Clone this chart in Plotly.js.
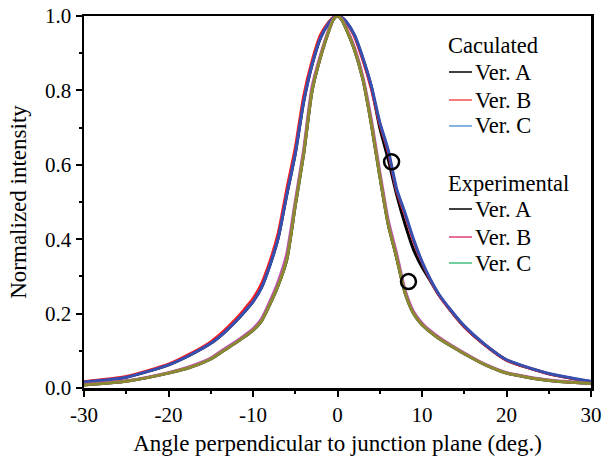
<!DOCTYPE html>
<html>
<head>
<meta charset="utf-8">
<script src="https://cdn.plot.ly/plotly-3.0.1.min.js"></script>
<style>html,body{margin:0;padding:0;background:#fff;}#chart{width:603px;height:465px;}</style>
</head>
<body>
<div id="chart"></div>
<script>
// Angles (deg.)
const angle = [-30,-25,-20,-17.5,-15,-13.5,-12,-11,-10,-9,-8,-7,-6,-5,-4,-3,-2,-1,-0.5,0,0.5,1,2,3,4,5,6,7,8,9,10,11,12,13.5,15,17.5,20,25,30];

// Calculated
const calcA = [0.016,0.029,0.062,0.088,0.12,0.147,0.18,0.205,0.232,0.27,0.33,0.405,0.52,0.63,0.77,0.87,0.942,0.982,0.995,1.0,0.996,0.985,0.948,0.885,0.81,0.70,0.615,0.52,0.44,0.372,0.325,0.288,0.25,0.205,0.165,0.115,0.075,0.038,0.017];
const calcB = [0.017,0.031,0.064,0.091,0.124,0.152,0.186,0.212,0.24,0.28,0.34,0.418,0.535,0.645,0.785,0.88,0.95,0.985,0.996,1.0,0.996,0.985,0.946,0.882,0.805,0.71,0.635,0.53,0.465,0.395,0.338,0.29,0.25,0.205,0.165,0.115,0.075,0.038,0.017];
const calcC = [0.016,0.029,0.062,0.088,0.12,0.147,0.18,0.205,0.232,0.27,0.33,0.405,0.52,0.63,0.77,0.87,0.942,0.982,0.995,1.0,0.996,0.986,0.95,0.888,0.812,0.715,0.64,0.535,0.47,0.40,0.34,0.292,0.252,0.207,0.167,0.116,0.076,0.039,0.018];

// Experimental
const expA = [0.008,0.018,0.04,0.055,0.078,0.1,0.122,0.138,0.155,0.18,0.225,0.277,0.345,0.49,0.63,0.80,0.89,0.962,0.99,1.0,0.99,0.967,0.91,0.83,0.71,0.57,0.44,0.35,0.255,0.20,0.17,0.15,0.133,0.112,0.092,0.062,0.04,0.02,0.012];
const expB = [0.009,0.019,0.041,0.057,0.08,0.103,0.125,0.141,0.159,0.185,0.232,0.287,0.36,0.50,0.64,0.81,0.895,0.965,0.991,1.0,0.991,0.97,0.915,0.835,0.72,0.58,0.45,0.36,0.262,0.205,0.174,0.153,0.136,0.114,0.094,0.063,0.041,0.021,0.012];
const expC = [0.008,0.018,0.04,0.055,0.078,0.1,0.122,0.138,0.155,0.18,0.225,0.277,0.345,0.49,0.63,0.80,0.89,0.962,0.99,1.0,0.99,0.967,0.91,0.83,0.71,0.57,0.44,0.35,0.255,0.20,0.17,0.15,0.133,0.112,0.092,0.062,0.04,0.02,0.012];

// Marked points (open circles)
const markX = [6.4, 8.4];
const markY = [0.608, 0.286];

// Tick labels
const xTickVals = [-30, -20, -10, 0, 10, 20, 30];
const xTickText = ["-30", "-20", "-10", "0", "10", "20", "30"];
const yTickVals = [0, 0.2, 0.4, 0.6, 0.8, 1.0];
const yTickText = ["0.0", "0.2", "0.4", "0.6", "0.8", "1.0"];

// Legend entries
const groupTitles = ["Caculated", "Experimental"];
const legendLabels = ["Ver. A", "Ver. B", "Ver. C"];
const legendColorsCalc = ["#000000", "#f05050", "#5b9bd5"];
const legendColorsExp = ["#000000", "#e0407a", "#40c080"];

const font = "Liberation Serif, Times New Roman, serif";

function line(y, color, w) {
  return {x: angle, y: y, type: "scatter", mode: "lines", showlegend: false,
    line: {color: color, width: w, shape: "spline", smoothing: 0.6}, hoverinfo: "skip"};
}

const traces = [
  line(calcA, "#000000", 3),
  line(calcB, "#ff1a1a", 3),
  line(calcC, "#3550b0", 3),
  line(expA, "#000000", 3),
  line(expB, "#c050b0", 3.2),
  line(expC, "#8a8a30", 3),
  {x: markX, y: markY, type: "scatter", mode: "markers", showlegend: false,
   marker: {symbol: "circle-open", size: 15, color: "#000", line: {color: "#000", width: 2.5}}}
];

// Manual legend (paper coordinates)
const W = 603, H = 465, L = 84, R = 12, T = 16, B = 77;
const pw = W - L - R, ph = H - T - B;
function px(xp) { return (xp - L) / pw; }
function py(yp) { return (H - B - yp) / ph; }

const annotations = [];
const shapes = [];
const groups = [
  {title: groupTitles[0], ty: 45, items: [72, 100, 126], colors: legendColorsCalc},
  {title: groupTitles[1], ty: 183, items: [209, 237, 263], colors: legendColorsExp}
];
groups.forEach(g => {
  annotations.push({xref: "paper", yref: "paper", x: px(446), y: py(g.ty), text: g.title,
    showarrow: false, xanchor: "left", yanchor: "middle", font: {family: font, size: 22.5, color: "#000"}});
  g.items.forEach((yy, i) => {
    shapes.push({type: "line", xref: "paper", yref: "paper", x0: px(449), x1: px(472),
      y0: py(yy), y1: py(yy), line: {color: g.colors[i], width: 1.5}});
    annotations.push({xref: "paper", yref: "paper", x: px(473), y: py(yy), text: legendLabels[i],
      showarrow: false, xanchor: "left", yanchor: "middle", font: {family: font, size: 22.5, color: "#000"}});
  });
});

const layout = {
  width: W, height: H,
  margin: {l: L, r: R, t: T, b: B, pad: 0},
  paper_bgcolor: "#fff", plot_bgcolor: "#fff",
  font: {family: font, size: 21, color: "#000"},
  showlegend: false,
  xaxis: {
    range: [-30, 30], tickmode: "array", tickvals: xTickVals, ticktext: xTickText,
    showgrid: false, zeroline: false,
    showline: true, mirror: true, linecolor: "#000", linewidth: 2.5,
    ticks: "outside", ticklen: 6, tickwidth: 2, tickcolor: "#000",
    minor: {tickmode: "linear", tick0: -30, dtick: 5, ticks: "outside", ticklen: 3, tickwidth: 2, tickcolor: "#000", showgrid: false},
    tickfont: {family: font, size: 21},
    title: {text: "Angle perpendicular to junction plane (deg.)", font: {family: font, size: 23}, standoff: 9}
  },
  yaxis: {
    range: [0, 1.0], tickmode: "array", tickvals: yTickVals, ticktext: yTickText,
    showgrid: false, zeroline: false,
    showline: true, mirror: true, linecolor: "#000", linewidth: 2.5,
    ticks: "outside", ticklen: 6, tickwidth: 2, tickcolor: "#000",
    minor: {tickmode: "linear", tick0: 0, dtick: 0.1, ticks: "outside", ticklen: 3, tickwidth: 2, tickcolor: "#000", showgrid: false},
    tickfont: {family: font, size: 21},
    title: {text: "Normalized intensity", font: {family: font, size: 23}, standoff: 12}
  },
  annotations: annotations,
  shapes: shapes
};

Plotly.newPlot("chart", traces, layout, {staticPlot: true, displayModeBar: false});
</script>
</body>
</html>
